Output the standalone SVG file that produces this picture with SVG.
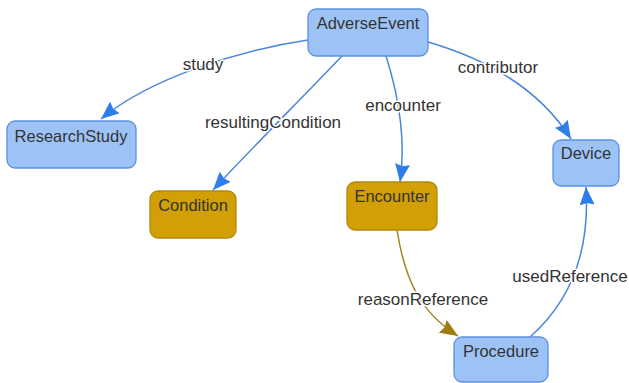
<svg xmlns="http://www.w3.org/2000/svg" width="629" height="383" viewBox="0 0 629 383">
<style>
.nb rect{fill:#9dc3f6;stroke:#5b90e0;stroke-width:1.3}
.ng rect{fill:#d29f05;stroke:#b08a10;stroke-width:1.3}
.nt{font-family:"Liberation Sans",Arial,sans-serif;font-size:16.5px;fill:#333;text-anchor:middle}
.e{fill:none;stroke-width:1.5}
.eb{stroke:#4a87db;marker-end:url(#ab)}
.eg{stroke:#a5831f;marker-end:url(#ag)}
.el{font-family:"Liberation Sans",Arial,sans-serif;font-size:17px;fill:#333;text-anchor:middle;stroke:#fff;stroke-width:3;paint-order:stroke;stroke-linejoin:round}
</style>
<defs>
<marker id="ab" viewBox="0 0 18 15" refX="18" refY="7.5" markerWidth="18" markerHeight="15" markerUnits="userSpaceOnUse" orient="auto"><path d="M0,0 L18,7.5 L0,15 L2,7.5 z" fill="#2f7de8"/></marker>
<marker id="ag" viewBox="0 0 18 15" refX="18" refY="7.5" markerWidth="18" markerHeight="15" markerUnits="userSpaceOnUse" orient="auto"><path d="M0,0 L18,7.5 L0,15 L2,7.5 z" fill="#a07c0c"/></marker>
</defs>
<g id="connectors">
<path class="e eb" d="M308,40 C240,50 150,78 101,119"/>
<path class="e eb" d="M342,56 C300,100 250,150 213,190"/>
<path class="e eb" d="M386,56 C400,100 406,140 400,182"/>
<path class="e eb" d="M428,42 C490,60 540,90 571,139"/>
<path class="e eg" d="M397,230 C405,280 420,312 458,336"/>
<path class="e eb" d="M530,337 C572,300 590,250 586,187"/>
</g>
<g id="edge-labels">
<text class="el" x="203" y="70">study</text>
<text class="el" x="273" y="128">resultingCondition</text>
<text class="el" x="403" y="111">encounter</text>
<text class="el" x="498" y="73">contributor</text>
<text class="el" x="423" y="305">reasonReference</text>
<text class="el" x="570" y="282">usedReference</text>
</g>
<g id="AdverseEvent" class="nb"><rect x="308" y="9" width="120" height="47" rx="8"/><text class="nt" x="368" y="29">AdverseEvent</text></g>
<g id="ResearchStudy" class="nb"><rect x="7" y="121" width="129" height="47" rx="8"/><text class="nt" x="71" y="142">ResearchStudy</text></g>
<g id="Condition" class="ng"><rect x="150" y="191" width="86" height="47" rx="8"/><text class="nt" x="193" y="211">Condition</text></g>
<g id="Encounter" class="ng"><rect x="347" y="182" width="90" height="48" rx="8"/><text class="nt" x="392" y="202">Encounter</text></g>
<g id="Device" class="nb"><rect x="553" y="140" width="66" height="46" rx="8"/><text class="nt" x="586" y="159">Device</text></g>
<g id="Procedure" class="nb"><rect x="454" y="337" width="94" height="45" rx="8"/><text class="nt" x="501" y="357">Procedure</text></g>
</svg>
